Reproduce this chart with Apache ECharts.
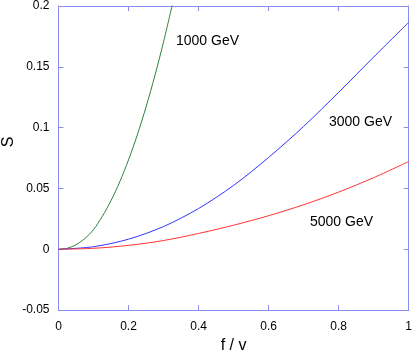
<!DOCTYPE html>
<html>
<head>
<meta charset="utf-8">
<script src="https://cdn.jsdelivr.net/npm/echarts@6/dist/echarts.min.js"></script>
<style>html,body{margin:0;padding:0;background:#fff}#c{width:415px;height:359px}</style>
</head>
<body>
<div id="c"></div>
<script>
// data
var greenF = [0, 0.025, 0.05, 0.075, 0.1, 0.125, 0.15, 0.175, 0.2, 0.225, 0.25, 0.275, 0.3, 0.325];
var greenS = [0, 0.0008, 0.0037, 0.0088, 0.0162, 0.027, 0.040, 0.0555, 0.0735, 0.094, 0.117, 0.1425, 0.1705, 0.201];
var blueF = [0, 0.1, 0.2, 0.3, 0.4, 0.5, 0.6, 0.7, 0.8, 0.9, 1.0];
var blueS = [0, 0.0021, 0.0083, 0.0187, 0.0335, 0.0525, 0.0755, 0.101, 0.129, 0.158, 0.1865];
var redF = [0, 0.1, 0.2, 0.3, 0.4, 0.5, 0.6, 0.7, 0.8, 0.9, 1.0];
var redS = [0, 0.0008, 0.0032, 0.0072, 0.013, 0.0198, 0.0276, 0.0366, 0.0470, 0.0589, 0.0721];
var seriesNames = ['1000 GeV', '3000 GeV', '5000 GeV'];
var xTicks = [0, 0.2, 0.4, 0.6, 0.8, 1];
var yTicks = [-0.05, 0, 0.05, 0.1, 0.15, 0.2];

function pairs(xs, ys) { return xs.map(function (x, i) { return [x, ys[i]]; }); }

var axisColor = '#8c8cf0';
var font = 'Liberation Sans, Arial, Helvetica, sans-serif';
var chart = echarts.init(document.getElementById('c'), null, {renderer: 'canvas'});

function axisCommon(showLabel) {
  return {
    axisLine: {show: true, onZero: false, lineStyle: {color: axisColor, width: 1}},
    axisTick: {show: true, inside: true, length: 5, lineStyle: {color: axisColor}},
    splitLine: {show: false},
    axisLabel: {show: showLabel, color: '#000', fontSize: 12, fontFamily: font}
  };
}

var option = {
  animation: false,
  grid: {left: 58.5, right: 2.5, top: 5, bottom: 48, containLabel: false},
  xAxis: [
    Object.assign({type: 'value', position: 'bottom', min: xTicks[0], max: xTicks[xTicks.length - 1], interval: 0.2,
      name: 'f / v', nameLocation: 'middle', nameGap: 26,
      nameTextStyle: {color: '#000', fontSize: 16, fontFamily: font}}, axisCommon(true),
      {axisLabel: {show: true, color: '#000', fontSize: 12, fontFamily: font, margin: 11}}),
    Object.assign({type: 'value', position: 'top', min: 0, max: 1, interval: 0.2}, axisCommon(false))
  ],
  yAxis: [
    Object.assign({type: 'value', position: 'left', min: yTicks[0], max: yTicks[yTicks.length - 1], interval: 0.05},
      axisCommon(true),
      {axisLabel: {show: true, color: '#000', fontSize: 12, fontFamily: font, margin: 9}}),
    Object.assign({type: 'value', position: 'right', min: -0.05, max: 0.2, interval: 0.05}, axisCommon(false))
  ],
  series: [
    {name: seriesNames[0], type: 'line', data: pairs(greenF, greenS), smooth: 0.3, showSymbol: false,
      lineStyle: {color: '#2e8040', width: 1}, clip: true},
    {name: seriesNames[1], type: 'line', data: pairs(blueF, blueS), smooth: 0.3, showSymbol: false,
      lineStyle: {color: '#3333ff', width: 1}, clip: true},
    {name: seriesNames[2], type: 'line', data: pairs(redF, redS), smooth: 0.3, showSymbol: false,
      lineStyle: {color: '#ff3333', width: 1}, clip: true}
  ],
  graphic: [
    {type: 'text', x: 9, y: 142, rotation: Math.PI / 2,
      style: {text: 'S', fill: '#000', font: '16px ' + font, textAlign: 'center', textVerticalAlign: 'middle'}},
    {type: 'text', x: 176, y: 41,
      style: {text: seriesNames[0], fill: '#000', font: '14px ' + font, textAlign: 'left', textVerticalAlign: 'middle'}},
    {type: 'text', x: 329, y: 122.5,
      style: {text: seriesNames[1], fill: '#000', font: '14px ' + font, textAlign: 'left', textVerticalAlign: 'middle'}},
    {type: 'text', x: 310, y: 222.5,
      style: {text: seriesNames[2], fill: '#000', font: '14px ' + font, textAlign: 'left', textVerticalAlign: 'middle'}}
  ]
};
chart.setOption(option);
</script>
</body>
</html>
